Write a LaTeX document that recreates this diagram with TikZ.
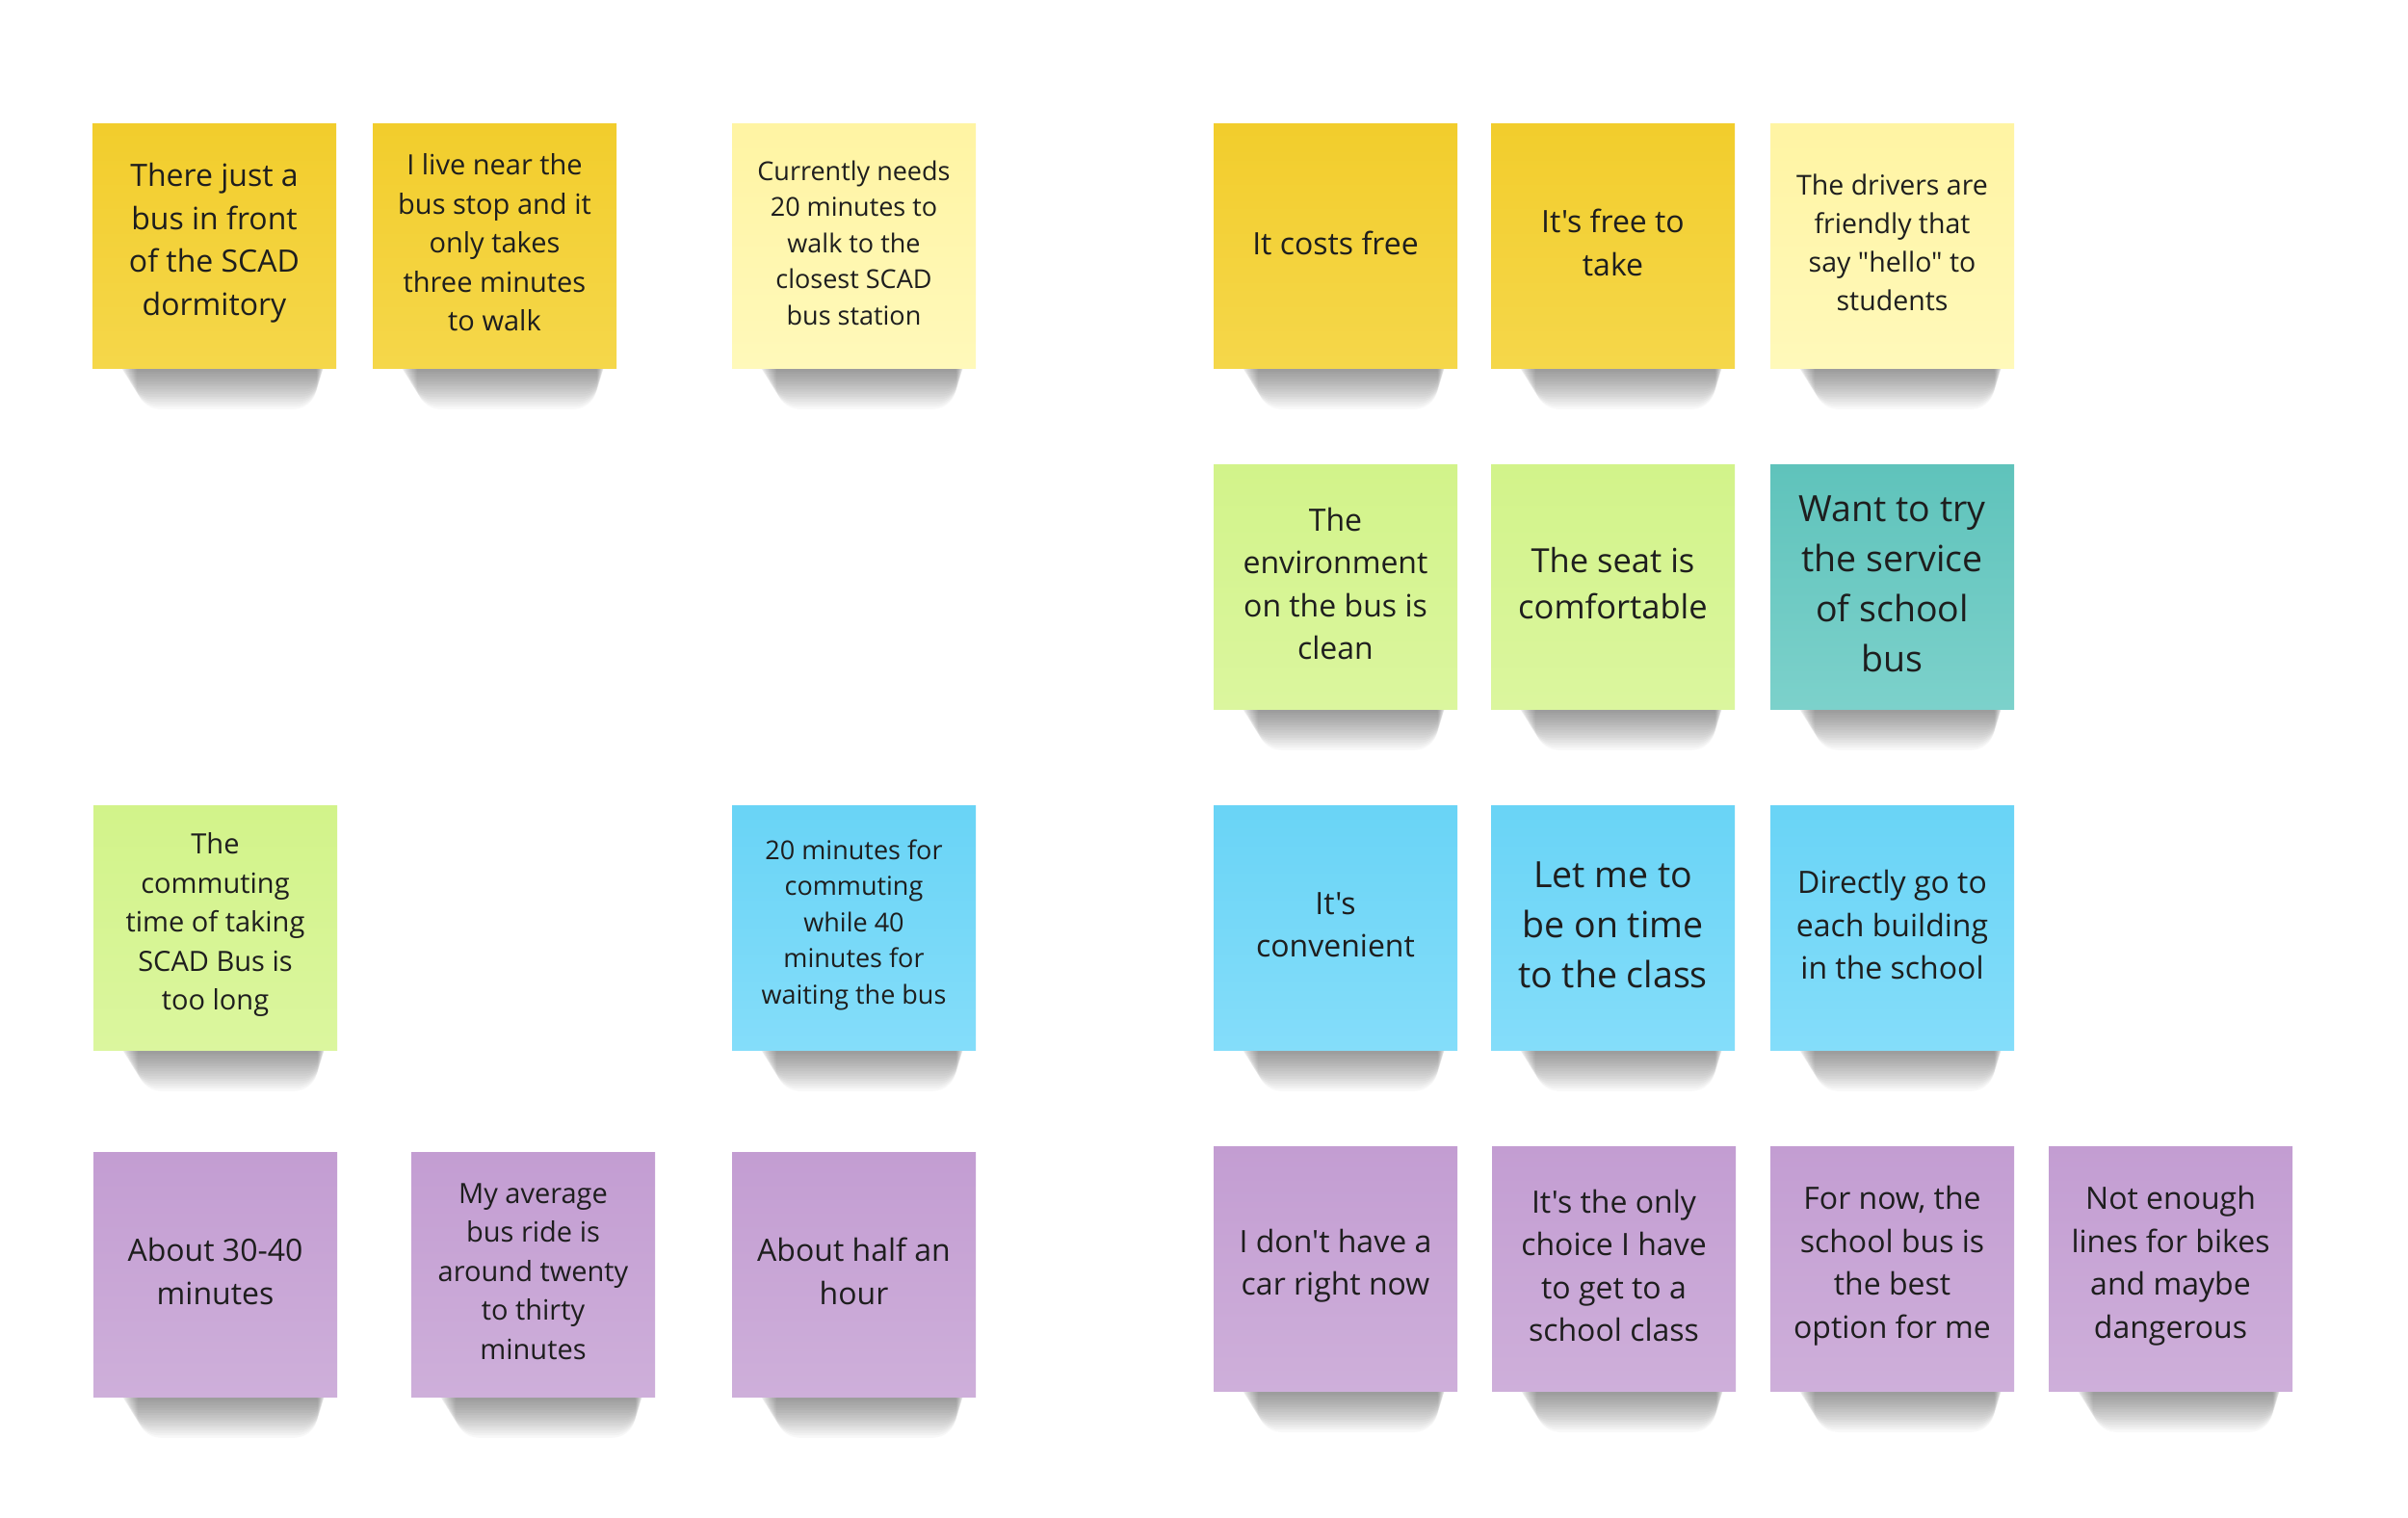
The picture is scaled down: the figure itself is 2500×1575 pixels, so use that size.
\documentclass[tikz,border=0pt]{standalone}
\usepackage{fontspec}
\setmainfont{Open Sans}[Ligatures=TeXOff]
\definecolor{yelT}{HTML}{F2CD2C}
\definecolor{yelB}{HTML}{F5D74A}
\definecolor{lyeT}{HTML}{FFF4A3}
\definecolor{lyeB}{HTML}{FFF9BA}
\definecolor{grnT}{HTML}{D2F38A}
\definecolor{grnB}{HTML}{DBF69E}
\definecolor{tealT}{HTML}{5FC3BB}
\definecolor{tealB}{HTML}{7CD1CB}
\definecolor{bluT}{HTML}{69D4F6}
\definecolor{bluB}{HTML}{84DDFA}
\definecolor{purT}{HTML}{C39DD2}
\definecolor{purB}{HTML}{CEAFDA}
\definecolor{inkc}{HTML}{1E1E1E}
\tikzset{
  yel/.style={top color=yelT,bottom color=yelB},
  lye/.style={top color=lyeT,bottom color=lyeB},
  grn/.style={top color=grnT,bottom color=grnB},
  teal/.style={top color=tealT,bottom color=tealB},
  blu/.style={top color=bluT,bottom color=bluB},
  pur/.style={top color=purT,bottom color=purB},
  notetext/.style={align=center,text=inkc,inner sep=0pt},
  fa/.style={font=\fontsize{27}{37.5}\selectfont},
  fb/.style={font=\fontsize{28.5}{40}\selectfont},
  fc/.style={font=\fontsize{29}{40.5}\selectfont},
  fd/.style={font=\fontsize{32}{44.5}\selectfont},
  fe/.style={font=\fontsize{34.5}{48}\selectfont},
  ff/.style={font=\fontsize{37.5}{52}\selectfont},
}
\newcommand\stickynote[6]{%
  \foreach \k in {1,...,18}{%
    \fill[black,opacity=0.028,rounded corners={3pt+\k*1.2pt}]
      ({#2+26+\k*1.1},{#3+236}) rectangle ({#2+242-\k*0.5},{#3+250+\k*2.6});}
  \shade[#4] (#2,#3) rectangle ++(253,254);
  \node[notetext,#5] (#1) at ({#2+126.5},{#3+124}) {#6};
}
\begin{document}
\begin{tikzpicture}[x=1pt,y=-1pt]
\useasboundingbox (0,0) rectangle (2500,1575);
\fill[white] (0,0) rectangle (2500,1575);
% left group
\stickynote{a1}{96}{128}{yel}{fd}{There just a\\bus in front\\of the SCAD\\dormitory}
\stickynote{a2}{387}{128}{yel}{fc}{I live near the\\bus stop and it\\only takes\\three minutes\\to walk}
\stickynote{a3}{760}{128}{lye}{fa}{Currently needs\\20 minutes to\\walk to the\\closest SCAD\\bus station}
\stickynote{d1}{97}{836}{grn}{fc}{The\\commuting\\time of taking\\SCAD Bus is\\too long}
\stickynote{d2}{760}{836}{blu}{fa}{20 minutes for\\commuting\\while 40\\minutes for\\waiting the bus}
\stickynote{f1}{97}{1196}{pur}{fd}{About 30-40\\minutes}
\stickynote{f2}{427}{1196}{pur}{fc}{My average\\bus ride is\\around twenty\\to thirty\\minutes}
\stickynote{f3}{760}{1196}{pur}{fd}{About half an\\hour}
% right group
\stickynote{b1}{1260}{128}{yel}{fd}{It costs free}
\stickynote{b2}{1548}{128}{yel}{fd}{It's free to\\take}
\stickynote{b3}{1838}{128}{lye}{fb}{The drivers are\\friendly that\\say "hello" to\\students}
\stickynote{c1}{1260}{482}{grn}{fd}{The\\environment\\on the bus is\\clean}
\stickynote{c2}{1548}{482}{grn}{fe}{The seat is\\comfortable}
\stickynote{c3}{1838}{482}{teal}{ff}{Want to try\\the service\\of school\\bus}
\stickynote{e1}{1260}{836}{blu}{fd}{It's\\convenient}
\stickynote{e2}{1548}{836}{blu}{ff}{Let me to\\be on time\\to the class}
\stickynote{e3}{1838}{836}{blu}{fd}{Directly go to\\each building\\in the school}
\stickynote{g1}{1260}{1190}{pur}{fd}{I don't have a\\car right now}
\stickynote{g2}{1549}{1190}{pur}{fd}{It's the only\\choice I have\\to get to a\\school class}
\stickynote{g3}{1838}{1190}{pur}{fd}{For now, the\\school bus is\\the best\\option for me}
\stickynote{g4}{2127}{1190}{pur}{fd}{Not enough\\lines for bikes\\and maybe\\dangerous}
\end{tikzpicture}
\end{document}
